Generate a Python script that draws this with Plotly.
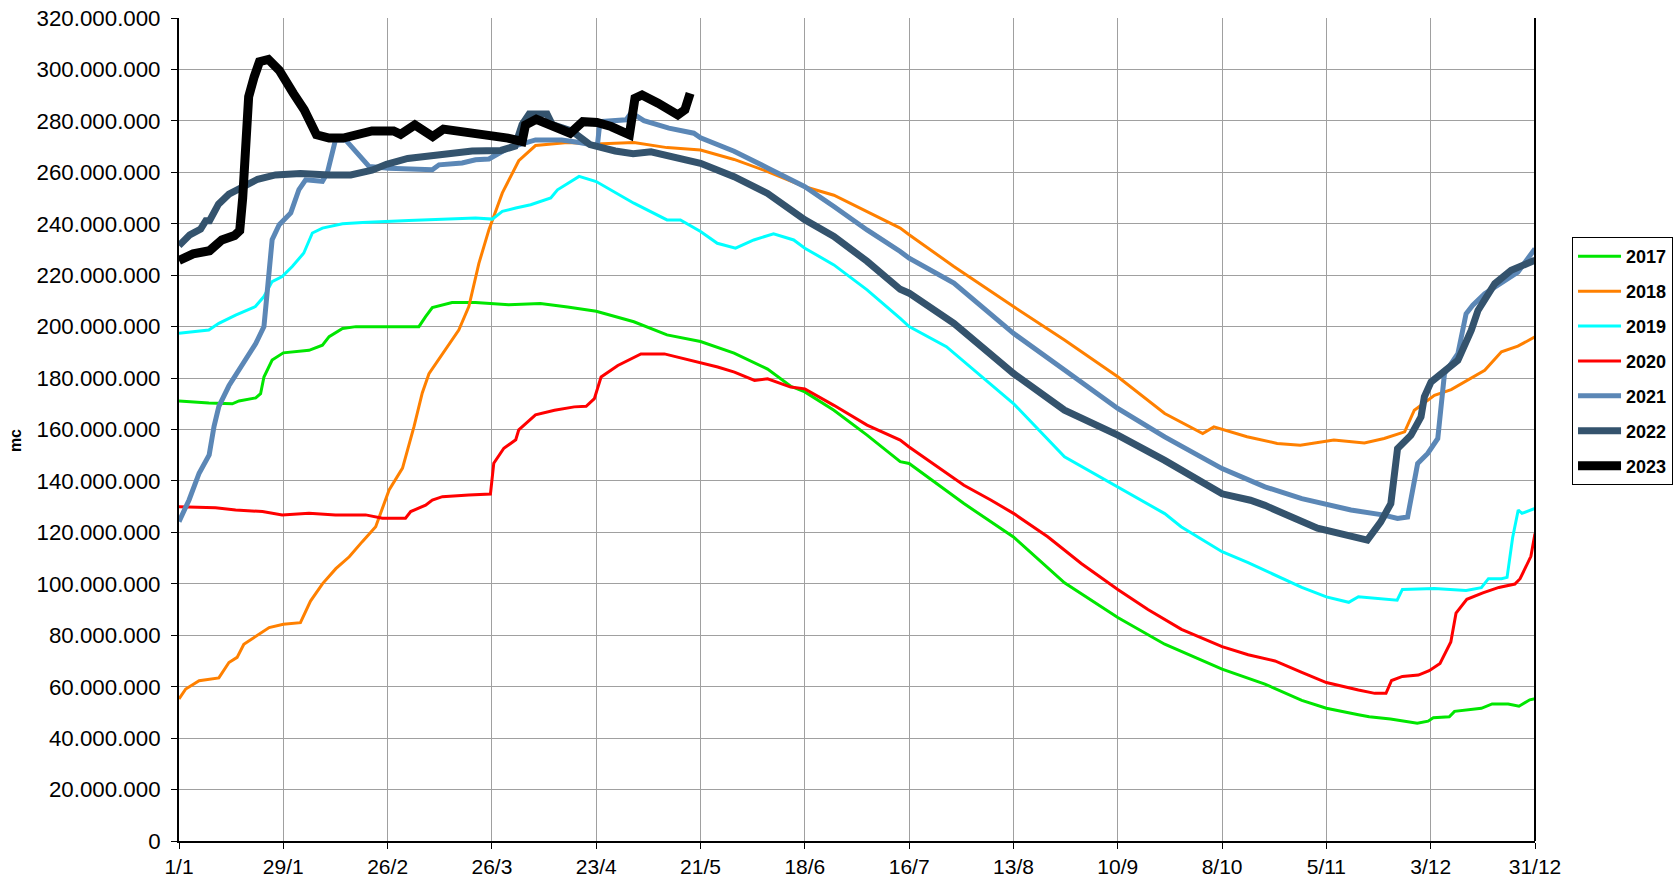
import plotly.graph_objects as go

# ---- axis labels ----
tick_days = [0, 28, 56, 84, 112, 140, 168, 196, 224, 252, 280, 308, 336, 364]
tick_labels = ["1/1", "29/1", "26/2", "26/3", "23/4", "21/5", "18/6", "16/7",
               "13/8", "10/9", "8/10", "5/11", "3/12", "31/12"]

# ---- series (day of year, volume in millions of m3) ----
d2017 = [0, 8, 14.3, 16.1, 20.6, 21.9, 22.8, 25, 28, 34.9, 38.5, 40.3, 43.9, 47.5, 56.4, 64.4, 66.2, 68,
         73.3, 79.6, 88.5, 97, 104.3, 112, 122.1, 131, 140, 149, 158, 164.2, 168, 175.8, 184.7, 193.6,
         196, 210.7, 224, 237.7, 252, 264.6, 280, 291.5, 301.4, 308, 316.6, 319.5, 325.2, 332.4, 335.3,
         336.7, 341, 342.4, 349.6, 352.5, 356.8, 359.7, 362.6, 364]
v2017 = [171.1, 170.3, 170, 171.1, 172.3, 173.9, 180.4, 187, 189.8, 190.8, 192.8, 196.1, 199.3, 200, 200,
         200, 203.9, 207.4, 209.4, 209.4, 208.5, 209, 207.6, 206, 201.9, 196.8, 194.2, 189.7, 183.5,
         176.8, 174.6, 167.5, 157.8, 147.5, 146.8, 131.2, 118.2, 100.4, 86.9, 76.5, 66.8, 61, 54.7,
         51.6, 49.1, 48.3, 47.4, 45.8, 46.6, 47.9, 48.3, 50.4, 51.6, 53.3, 53.3, 52.4, 54.9, 55.3]

d2018 = [0, 1.8, 5.4, 10.7, 13.4, 15.6, 17.4, 21.5, 24.2, 28, 32.6, 35.3, 38.5, 42.1, 45.7, 49.2, 52.8,
         56.4, 60, 63.1, 65.3, 67.1, 70.7, 75.1, 77.8, 80.5, 83.2, 86.8, 91.2, 95.7, 104.3, 112, 122.1,
         131, 140, 149, 158, 168, 175.8, 184.7, 193.6, 196, 208, 224, 237.7, 252, 264.6, 274.8, 277.8,
         286.7, 294.8, 301, 310, 318.2, 323.5, 329, 331.6, 337, 341.5, 350.5, 355, 359.4, 364]
v2018 = [55.2, 59.1, 62.3, 63.4, 69.4, 71.4, 76.5, 80.4, 83, 84.3, 84.9, 93.3, 100, 105.9, 110.5, 116.4,
         122.2, 136.5, 145, 161.2, 174.2, 181.7, 189.5, 198.7, 207.8, 224.6, 237.7, 252, 264.5, 270.4,
         271.6, 271, 271.6, 269.6, 268.7, 265, 260.3, 254.4, 251.1, 244.7, 238.3, 235.7, 223.4, 207.8,
         194.8, 180.5, 166.2, 158.4, 161, 157.2, 154.6, 153.9, 155.9, 154.8, 156.5, 159.1, 167.5, 173.3,
         175.5, 183, 190.2, 192.4, 196]

d2019 = [0, 8, 10.7, 15.2, 20.5, 22.8, 25, 27.7, 30.4, 33.5, 35.8, 38.5, 43.9, 49.3, 61.7, 70.7, 79.6,
         84.1, 86.8, 90.4, 94.4, 99.8, 101.6, 107.4, 112, 122.1, 131, 134.6, 140, 144.5, 149.4, 154.3,
         159.6, 165, 168, 175.8, 184.7, 193.6, 196, 206, 224, 237.7, 252, 264.6, 269, 280, 287, 301.4,
         308, 314, 316.6, 325.2, 327, 328.4, 337, 345.5, 349.6, 351.5, 355, 356.5, 358, 359.5, 360.5, 364]
v2019 = [197.4, 198.7, 201.3, 204.5, 207.8, 211.7, 217.5, 219.5, 223.4, 228.6, 236.4, 238.3, 240, 240.5,
         241.3, 241.8, 242.2, 241.8, 244.8, 246.1, 247.4, 250, 253.2, 258.4, 256.4, 248, 241.5, 241.5,
         237, 232.4, 230.5, 233.7, 236.1, 233.7, 230.5, 224, 214.3, 203.2, 200, 192.2, 170.1, 149.4,
         137.7, 127.3, 122.2, 112.5, 108.2, 98.6, 94.9, 92.8, 95, 94, 93.6, 97.8, 98.2, 97.4, 98.5, 102,
         102, 102.5, 118, 128.7, 127.4, 129.3]

d2020 = [0, 9.8, 15.2, 22.4, 27.7, 34.9, 42, 50.1, 54.6, 60.8, 62.2, 66.2, 68, 70.7, 77.8, 83.6, 84.5,
         87.2, 90.4, 91.2, 95.7, 100.8, 106.1, 109.3, 111.5, 113.3, 117.8, 120.4, 124, 130.3, 135.7,
         140, 144.6, 149.1, 154.5, 158, 164.2, 168, 175.8, 184.7, 193.6, 196, 210.7, 217.9, 224, 233.2,
         242.2, 252, 260.1, 269.1, 280, 287, 294.2, 301.4, 308, 316.6, 321, 324, 325.5, 328.4, 332.7,
         335.6, 338.5, 341.4, 342.8, 345.7, 350, 354.3, 358.6, 360, 362.9, 364]
v2020 = [130, 129.6, 128.7, 128.1, 126.8, 127.4, 126.8, 126.8, 125.5, 125.5, 128.1, 130.6, 132.6, 133.9,
         134.5, 134.9, 146.9, 152.7, 156, 159.9, 165.7, 167.5, 168.8, 169, 172, 180.4, 184.9, 186.8,
         189.4, 189.4, 187.5, 186.2, 184.3, 182.3, 179.1, 179.7, 176.5, 175.8, 169.4, 161.7, 155.9,
         153.2, 138.3, 132.6, 127.4, 118.3, 107.9, 97.8, 90, 82.3, 75.6, 72.4, 70, 65.6, 61.6, 58.7,
         57.4, 57.4, 62.4, 64, 64.5, 66.2, 69, 77.4, 88.6, 94, 96.5, 98.6, 99.9, 102, 110.7, 119.6]

d2021 = [0, 2.7, 5.4, 8.1, 9.4, 10.7, 13.4, 17, 20.6, 22.8, 23.7, 25, 26.9, 30, 32.2, 34, 38.5, 39.8, 42,
         44.7, 51, 56.3, 68, 69.8, 76, 79.6, 83.2, 88.5, 95.7, 102.7, 107.5, 112.3, 113, 117.1, 120,
         121.4, 124.8, 131.5, 138.2, 140, 149, 158, 168, 175.8, 183, 184.7, 193.6, 196, 208, 224, 237.7,
         252, 264.6, 280, 291.5, 296.6, 301.4, 314.6, 323.5, 327.1, 329.8, 332.5, 335.2, 337.9, 339.7,
         343.3, 345.5, 347.3, 350.5, 359.4, 364]
v2021 = [124.2, 132.6, 143, 150.1, 161.2, 169, 177, 185, 193.4, 200, 215.6, 233.8, 239.6, 244.2, 253.3,
         257.1, 256.5, 259.7, 272.6, 272.6, 262.3, 261.6, 261, 262.9, 263.6, 264.9, 265.2, 269.5, 272.6,
         272.6, 271.6, 270.3, 279.7, 280.1, 280.4, 283.2, 280.1, 277.2, 275.2, 273.4, 268.2, 261.7,
         254.4, 246.7, 239, 237.6, 229.2, 226.6, 216.9, 197.4, 183.1, 168.2, 157.1, 144.8, 137.7, 135.1,
         133.1, 128.7, 126.7, 125.4, 126, 146.8, 150.7, 156.5, 181.7, 189.5, 205, 208.3, 212.8, 221.2,
         230.3]

d2022 = [0, 2.9, 5.8, 7.2, 8.2, 10.6, 13.4, 17.3, 21.1, 25.9, 32.6, 40.3, 46.1, 51.8, 55.7, 61.4, 69.1,
         75.8, 78.7, 86.4, 90.2, 92.1, 94, 98.8, 100.2, 105.5, 110.3, 117.1, 121.9, 126.7, 131.5, 136.3,
         140, 149, 158, 168, 175.8, 184.7, 193.6, 196, 208, 224, 237.7, 252, 264.6, 280, 287.6, 291.5,
         301.4, 305.6, 319, 322.6, 325.3, 327.1, 330.7, 333.4, 334.3, 336.1, 343.3, 346.9, 348.7, 353.2,
         357.6, 364]
v2022 = [231.5, 235.7, 237.9, 241.2, 241.2, 247.6, 251.5, 254.3, 257.3, 259, 259.5, 259, 259, 260.8,
         263.1, 265.4, 266.7, 267.2, 268.3, 268.5, 270.2, 278.6, 282.7, 282.7, 278.6, 276, 270.8, 268.3,
         267.2, 268, 266.3, 264.4, 263.5, 258.3, 251.8, 241.5, 235.1, 225.4, 214.5, 213, 201.3, 181.8,
         167.5, 157.8, 148, 135, 132.5, 130.5, 124, 121.6, 117, 124.1, 131.2, 152.6, 157.8, 164.9,
         172.7, 178.5, 186.9, 198.6, 206.3, 216.7, 221.9, 225.8]

d2023 = [0, 3.8, 8.2, 10.6, 11.5, 14.9, 16.3, 17.1, 17.8, 18.7, 20.2, 21.6, 24, 26.9, 30.7, 33.6, 36.9,
         40.3, 44.1, 47, 51.8, 57.6, 59.5, 63.3, 68.1, 71, 75.8, 78.7, 83.4, 88.3, 92.1, 93, 95.9, 100.7,
         105, 108.4, 112.2, 116, 120.9, 122.4, 124.3, 128.6, 133.9, 135.8, 136.8, 137.2]
v2023 = [225.7, 228.3, 229.5, 232.1, 233.7, 235.4, 237.3, 250, 276.5, 289.4, 297.2, 303, 303.9, 299.7,
         290.7, 284.3, 274.6, 273.3, 273.3, 274.6, 276.1, 276.1, 274.8, 278.4, 273.9, 276.8, 275.9,
         274.6, 274.6, 273.3, 272, 278.4, 280.6, 277.8, 275.2, 279.7, 279.4, 277.8, 274.6, 288.8, 290.1,
         286.9, 282.3, 284.3, 287.5, 290.7]

series = [
    ("2017", d2017, v2017, "#00E600", 3),
    ("2018", d2018, v2018, "#FF8000", 3),
    ("2019", d2019, v2019, "#00FFFF", 3),
    ("2020", d2020, v2020, "#FF0000", 3),
    ("2021", d2021, v2021, "#5B87B6", 5),
    ("2022", d2022, v2022, "#34536D", 7),
    ("2023", d2023, v2023, "#000000", 9),
]

FONT = "Liberation Sans, Arial, sans-serif"

fig = go.Figure()
for name, days, vals, color, width in series:
    fig.add_trace(go.Scatter(
        x=days, y=[v * 1e6 for v in vals], mode="lines", name=name,
        legendgroup=name,
        line=dict(color=color, width=width, shape="linear"),
        hoverinfo="skip",
    ))

fig.update_layout(
    width=1677, height=878,
    margin=dict(l=179, r=142, t=18, b=37, autoexpand=False),
    paper_bgcolor="white", plot_bgcolor="white",
    separators=",.",
    font=dict(family=FONT, color="black", size=21),
    showlegend=True,
    legend=dict(
        xref="container", yref="container",
        x=0.9374, y=0.730, xanchor="left", yanchor="top",
        bordercolor="black", borderwidth=1, bgcolor="white",
        font=dict(size=18, family=FONT, weight="bold"),
        traceorder="grouped", tracegroupgap=8.5, itemwidth=43,
    ),
)

fig.update_xaxes(
    range=[0, 364], tickmode="array", tickvals=tick_days, ticktext=tick_labels,
    showgrid=True, gridcolor="#A0A0A0", gridwidth=1, zeroline=False,
    showline=True, linecolor="black", linewidth=2,
    ticks="outside", ticklen=6, tickcolor="black",
    tickfont=dict(size=21), automargin=False,
)
fig.update_yaxes(
    range=[0, 320e6], tickmode="linear", tick0=0, dtick=20e6, tickformat=",.0f",
    showgrid=True, gridcolor="#A0A0A0", gridwidth=1, zeroline=False,
    showline=True, linecolor="black", linewidth=2,
    ticks="outside", ticklen=6, tickcolor="black",
    tickfont=dict(size=22.3), ticklabelstandoff=6, automargin=False,
)

fig.add_shape(type="line", xref="paper", yref="paper", x0=1, x1=1, y0=0, y1=1,
              line=dict(color="black", width=2))

fig.add_annotation(text="<b>mc</b>", xref="paper", yref="paper",
                   x=-0.121, y=0.487, xanchor="center", yanchor="middle",
                   textangle=-90, showarrow=False,
                   font=dict(size=16, family=FONT))

fig.write_html(
    "out.html",
    config={"displayModeBar": False},
    post_script="document.body.style.margin='0';document.body.style.overflow='hidden';",
)
